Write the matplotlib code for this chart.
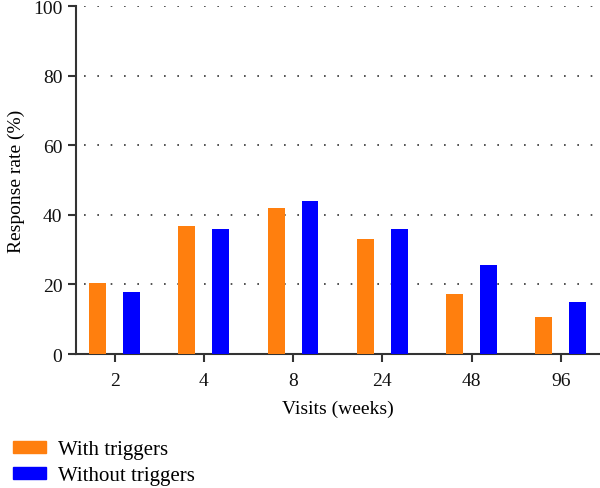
import matplotlib
matplotlib.use("Agg")
import matplotlib.pyplot as plt
import numpy as np
from matplotlib.patches import Patch

categories = ["2", "4", "8", "24", "48", "96"]
with_triggers = [20.3, 36.9, 42.0, 33.1, 17.4, 10.6]
without_triggers = [17.7, 36.0, 44.0, 36.0, 25.7, 15.1]

plt.rcParams['font.family'] = ['Liberation Serif', 'DejaVu Serif']

fig = plt.figure(figsize=(6, 4.89), dpi=100)
ax = fig.add_axes([0.127, 0.274, 0.873, 0.711])

x = np.arange(len(categories))
w = 0.19
orange = "#ff7f0e"
blue = "#0000ff"
ax.bar(x - w, with_triggers, width=w, color=orange, zorder=3)
ax.bar(x + w, without_triggers, width=w, color=blue, zorder=3)

ax.set_xlim(-0.43, 5.44)
ax.set_ylim(0, 100)
ax.set_yticks([0, 20, 40, 60, 80, 100])
ax.set_xticks(x)
ax.set_xticklabels(categories)
for yv in [20, 40, 60, 80, 100]:
    ax.axhline(yv, xmin=0.015, xmax=1, color="#333333", linestyle=(0, (1, 7)), linewidth=1.2, zorder=1)

for s in ["top", "right"]:
    ax.spines[s].set_visible(False)
for s in ["left", "bottom"]:
    ax.spines[s].set_color("#333333")
    ax.spines[s].set_linewidth(1.5)
ax.tick_params(axis="both", direction="out", length=6, width=1.5, color="#333333", labelsize=14, labelcolor="#111111")
ax.tick_params(axis="x", pad=7)
ax.tick_params(axis="y", pad=4)

ax.set_ylabel("Response rate (%)", fontsize=14, labelpad=6)
ax.set_xlabel("Visits (weeks)", fontsize=14, labelpad=8)

handles = [Patch(color=orange, label="With triggers"), Patch(color=blue, label="Without triggers")]
fig.legend(handles=handles, loc="lower left", bbox_to_anchor=(0.0, -0.02), frameon=False,
           fontsize=15, handlelength=1.6, handleheight=0.5, handletextpad=0.6, labelspacing=0.35,
           borderaxespad=0.2, borderpad=0.4)

fig.savefig("out.png", dpi=100)
